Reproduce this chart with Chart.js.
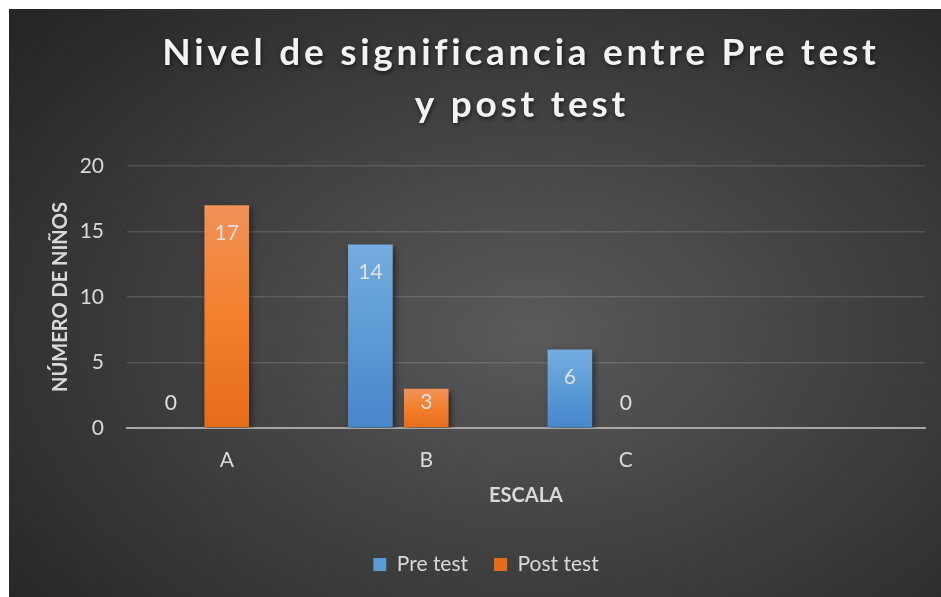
<!DOCTYPE html>
<html>
<head>
<meta charset="utf-8">
<script src="https://cdn.jsdelivr.net/npm/chart.js@4.4.1/dist/chart.umd.min.js"></script>
<style>
  body { margin: 0; background: #fff; }
  #wrap {
    position: absolute; left: 9px; top: 9px; width: 932px; height: 588px;
    background: radial-gradient(ellipse 72% 78% at 56% 55%, #5a5a5a 0%, #262626 100%);
  }
</style>
</head>
<body>
<div id="wrap"><canvas id="myChart" width="932" height="588"></canvas></div>
<script>
const categories = ['A', 'B', 'C', ''];
const preTest = [0, 14, 6, null];
const postTest = [17, 3, 0, null];
const yTicks = [0, 5, 10, 15, 20];
const titleLines = ['Nivel de significancia entre Pre test', 'y post test'];

const font = 'Lato';
const textColor = '#d9d9d9';

function barFill(top, mid, bottom) {
    return function (c) {
        if (c.type !== 'data' || c.raw == null) return mid;
        const y = c.chart.scales.y;
        const y0 = y.getPixelForValue(c.raw);
        const y1 = y.getPixelForValue(0);
        if (!isFinite(y0) || Math.abs(y1 - y0) < 1) return mid;
        const g = c.chart.ctx.createLinearGradient(0, y0, 0, y1);
        g.addColorStop(0, top);
        g.addColorStop(0.5, mid);
        g.addColorStop(1, bottom);
        return g;
    };
}

// title, bar shadows and value labels
const decor = {
    id: 'decor',
    beforeDatasetsDraw(chart) {
        const ctx = chart.ctx;
        ctx.save();
        ctx.shadowColor = 'rgba(0,0,0,0.55)';
        ctx.shadowBlur = 6;
        ctx.shadowOffsetX = 2;
        ctx.shadowOffsetY = 3;
    },
    afterDatasetsDraw(chart) {
        const ctx = chart.ctx;
        ctx.restore();
        ctx.save();
        ctx.font = '21px ' + font;
        ctx.fillStyle = '#e0e0e0';
        ctx.textAlign = 'center';
        ctx.textBaseline = 'middle';
        [0, 1].forEach(function (di) {
            const meta = chart.getDatasetMeta(di);
            meta.data.forEach(function (el, i) {
                const v = chart.data.datasets[di].data[i];
                if (v == null) return;
                const y = Math.min(el.y + 28, el.base - 25);
                ctx.fillText(String(v), el.x, y);
            });
        });
        ctx.restore();
    },
    afterDraw(chart) {
        const ctx = chart.ctx;
        ctx.save();
        ctx.font = 'bold 37px ' + font;
        ctx.fillStyle = '#f2f2f2';
        ctx.textAlign = 'center';
        ctx.textBaseline = 'alphabetic';
        ctx.shadowColor = 'rgba(0,0,0,0.6)';
        ctx.shadowBlur = 4;
        ctx.shadowOffsetX = 1;
        ctx.shadowOffsetY = 2;
        // spread first line to the width of the original
        const w0 = ctx.measureText(titleLines[0]).width;
        const sp = Math.max(0, (713 - w0) / (titleLines[0].length - 1));
        ctx.letterSpacing = sp.toFixed(2) + 'px';
        ctx.fillText(titleLines[0], 510 + sp / 2, 56);
        ctx.fillText(titleLines[1], 511 + sp / 2, 108);
        ctx.restore();
    }
};

const ctx = document.getElementById('myChart').getContext('2d');
const myChart = new Chart(ctx, {
    type: 'bar',
    data: {
        labels: categories,
        datasets: [{
            label: 'Pre test',
            data: preTest,
            backgroundColor: barFill('#75ace1', '#5b9bd5', '#4886cb'),
            borderWidth: 0
        }, {
            label: 'Post test',
            data: postTest,
            backgroundColor: barFill('#f19258', '#f37f2c', '#e66c1a'),
            borderWidth: 0
        }, {
            label: '',
            data: [null, null, null, null],
            backgroundColor: '#a5a5a5'
        }]
    },
    options: {
        responsive: false,
        animation: false,
        categoryPercentage: 0.84,
        barPercentage: 0.8,
        layout: { padding: { top: 157, left: 38, right: 16, bottom: 12 } },
        plugins: {
            legend: {
                position: 'bottom',
                labels: {
                    color: textColor,
                    font: { family: font, size: 21 },
                    boxWidth: 13,
                    boxHeight: 13,
                    padding: 26,
                    filter: function (item) { return item.datasetIndex < 2; }
                }
            },
            title: { display: false },
            tooltip: { enabled: false }
        },
        scales: {
            x: {
                grid: { display: false, drawTicks: false },
                border: { color: '#a6a6a6', width: 2 },
                ticks: { color: textColor, font: { family: font, size: 21 }, padding: 20 },
                title: {
                    display: true, text: 'ESCALA', color: textColor,
                    font: { family: font, size: 20, weight: 'bold' },
                    padding: { top: 0, bottom: 20 }
                },
                afterFit: function (s) { s.height = 100; }
            },
            y: {
                min: 0,
                max: 20,
                afterBuildTicks: function (s) { s.ticks = yTicks.map(function (v) { return { value: v }; }); },
                grid: { color: 'rgba(255,255,255,0.13)', lineWidth: 1.5, drawTicks: false },
                border: { display: false },
                ticks: { color: textColor, font: { family: font, size: 21 }, padding: 23 },
                title: {
                    display: true, text: 'NÚMERO DE NIÑOS', color: textColor,
                    font: { family: font, size: 20, weight: 'bold' },
                    padding: { top: 2, bottom: 0 }
                },
                afterFit: function (s) { s.width = 80; }
            }
        }
    },
    plugins: [decor]
});
</script>
</body>
</html>
